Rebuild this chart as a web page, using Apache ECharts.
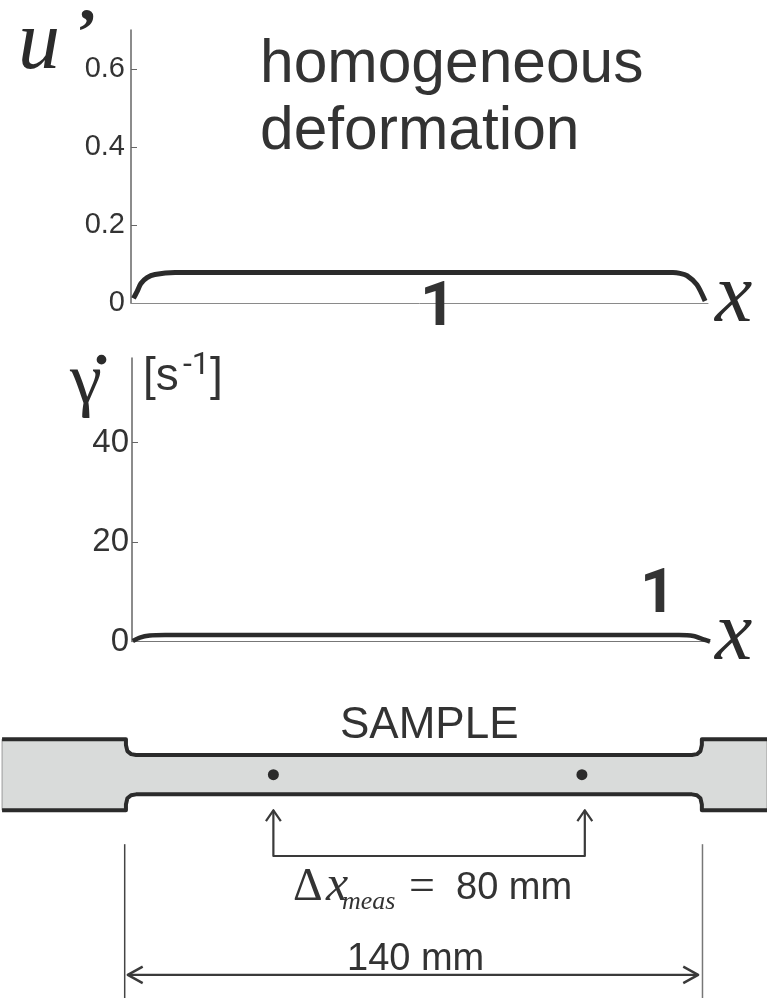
<!DOCTYPE html>
<html><head><meta charset="utf-8">
<style>html,body{margin:0;padding:0;background:#fff}#c{width:767px;height:998px}</style>
<script src="https://cdn.jsdelivr.net/npm/echarts@6/dist/echarts.min.js"></script>
</head><body><div id="c"></div>
<script>
// Top panel: u' along x (mm)
const uX = [0.6,1.5,2.4,3.9,5.8,10.7,40,70,100,131.5,133.2,134.9,137.3,139.3];
const uY = [0.012,0.03,0.05,0.065,0.073,0.078,0.078,0.078,0.078,0.078,0.076,0.070,0.047,0.005];
const uTicks = [0.2,0.4,0.6];
const uLabels = [0,0.2,0.4,0.6];
// Middle panel: strain rate along x (mm)
const gX = [0.2,1.9,4.3,8,40,70,100,132.5,136,138.5,140];
const gY = [0.1,0.8,1.2,1.3,1.3,1.3,1.3,1.3,1.1,0.4,0];
const gTicks = [20,40];
const gLabels = [0,20,40];
// Sample outline (mm)
const sampleTopX = [-29.5,0.45,0.45,0.8,1.7,2.9,137.3,138.5,139.35,139.7,139.7,155.45];
const sampleTopY = [8.6,8.6,7.2,5.7,4.97,4.75,4.75,4.97,5.7,7.2,8.6,8.6];
const gaugeX = [36.1,110.7];
const gaugeY = [0,0];
// Dimension drawing (mm)
const bracketX = [36.1,36.1,111.4,111.4];
const bracketY = [-8.6,-19.66,-19.66,-8.6];
const headLX = [34.3,36.1,37.9];
const headRX = [109.6,111.4,113.2];
const headY = [-11.2,-8.6,-11.2];
const dimX = [0.9,138.8];
const dimY = [-48.4,-48.4];
const dimHeadLX = [4.5,0.9,4.5];
const dimHeadRX = [135.2,138.8,135.2];
const dimHeadY = [-46.4,-48.4,-50.4];
const extX = [0.15,139.85];
const extY = [-16.8,-54];

const DARK='#2b2b2b', TXT='#333333', AX='#666666';
const zip=(a,b)=>a.map((v,i)=>[v,b[i]]);
const path=(xs,ys,w,c,z)=>({type:'line',xAxisIndex:2,yAxisIndex:2,data:zip(xs,ys),symbol:'none',silent:true,clip:false,z:z||3,
  lineStyle:{width:w,color:c,cap:'butt',join:'round'}});
const sans='"Liberation Sans",Arial,sans-serif', serif='"Liberation Serif","Times New Roman",serif', rob='Roboto,sans-serif';
const text=(t,x,baseY,size,face,opt)=>({type:'text',silent:true,z:20,style:Object.assign({text:t,x:x,y:baseY-0.29*size,font:face.replace('$',size+'px'),fill:TXT,textAlign:'left',verticalAlign:'middle'},opt||{})});

const outline = zip(sampleTopX,sampleTopY).concat(zip(sampleTopX,sampleTopY.map(v=>-v)).reverse());

const option={
  animation:false,backgroundColor:'#fff',
  grid:[
    {left:131,width:577,top:30,height:273},
    {left:132,width:578,top:358,height:283.5},
    {left:0,width:767,top:690,height:308}
  ],
  xAxis:[
    {gridIndex:0,type:'value',min:0,max:140,axisLine:{onZero:false,lineStyle:{color:'#8a8a8a',width:1}},axisTick:{show:false},axisLabel:{show:false},splitLine:{show:false}},
    {gridIndex:1,type:'value',min:0,max:140,axisLine:{onZero:false,lineStyle:{color:'#777',width:1}},axisTick:{show:false},axisLabel:{show:false},splitLine:{show:false}},
    {gridIndex:2,type:'value',min:-30,max:155.45,show:false}
  ],
  yAxis:[
    {gridIndex:0,type:'value',min:0,max:0.7,position:'left',
     axisLine:{show:true,onZero:false,lineStyle:{color:AX,width:1.5}},
     axisTick:{show:true,inside:true,length:6,customValues:uTicks,lineStyle:{color:AX}},
     axisLabel:{customValues:uLabels,margin:6,padding:[4,0,0,0],fontFamily:sans,fontSize:29,color:TXT,formatter:v=>v===0?'0':v.toFixed(1)},
     splitLine:{show:false}},
    {gridIndex:1,type:'value',min:0,max:57,position:'left',
     axisLine:{show:true,onZero:false,lineStyle:{color:AX,width:1.5}},
     axisTick:{show:true,inside:true,length:6,customValues:gTicks,lineStyle:{color:AX}},
     axisLabel:{customValues:gLabels,margin:3,padding:[5,0,0,0],fontFamily:sans,fontSize:33,color:TXT},
     splitLine:{show:true,showMinLine:false,showMaxLine:false,lineStyle:{color:'#d4d4d4',type:'dotted',width:1}}},
    {gridIndex:2,type:'value',min:-53.99,max:20.48,show:false}
  ],
  series:[
    {type:'line',name:"u'",xAxisIndex:0,yAxisIndex:0,data:zip(uX,uY),symbol:'none',smooth:0.25,clip:false,silent:true,lineStyle:{width:5,color:DARK}},
    {type:'line',name:'gamma',xAxisIndex:1,yAxisIndex:1,data:zip(gX,gY),symbol:'none',smooth:0.25,clip:false,silent:true,lineStyle:{width:4.5,color:DARK}},
    {type:'custom',xAxisIndex:2,yAxisIndex:2,data:[[0,0]],silent:true,clip:false,z:1,
     renderItem:(p,api)=>({type:'polygon',shape:{points:outline.map(d=>api.coord(d))},style:{fill:'#d9dbda',stroke:'#9a9a9a',lineWidth:1}})},
    path(sampleTopX,sampleTopY,4,DARK),
    path(sampleTopX,sampleTopY.map(v=>-v),4,DARK),
    {type:'scatter',xAxisIndex:2,yAxisIndex:2,data:zip(gaugeX,gaugeY),symbol:'circle',symbolSize:11,silent:true,itemStyle:{color:DARK,opacity:1},z:4},
    path(bracketX,bracketY,2.2,'#3a3a3a'),
    path(headLX,headY,2.2,'#3a3a3a'),
    path(headRX,headY,2.2,'#3a3a3a'),
    path(dimX,dimY,2.2,'#3a3a3a'),
    path(dimHeadLX,dimHeadY,2.4,'#3a3a3a'),
    path(dimHeadRX,dimHeadY,2.4,'#3a3a3a'),
    path([extX[0],extX[0]],extY,1.5,'#444'),
    path([extX[1],extX[1]],extY,1.5,'#777')
  ],
  graphic:{elements:[
    text('u',18,70,84,'italic $ '+serif,{fill:DARK}),
    text('’',76,55,66,'bold $ '+serif,{fill:DARK}),
    text('homogeneous',260,83,60.5,'$ '+sans),
    text('deformation',260,150,60.5,'$ '+sans),
    text('1',420,327,62,'bold $ '+rob),
    text('x',715,323,84,'italic $ '+serif,{fill:DARK}),
    text('γ',70,405,72,'$ '+serif,{fill:DARK}),
    text('.',94,366,60,'bold $ '+serif,{fill:DARK}),
    text('[s',143,391,46,'$ '+sans),
    text('-1',183,375,32,'$ '+rob),
    text(']',210,391,46,'$ '+sans),
    text('1',640,614,62,'bold $ '+rob),
    text('x',715,661,84,'italic $ '+serif,{fill:DARK}),
    text('SAMPLE',340,739,44,'$ '+sans),
    text('Δ',293,901,46,'$ '+serif),
    text('x',326,901,50,'italic $ '+serif),
    text('meas',342,910,26,'italic $ '+serif),
    text('=',409,901,46,'$ '+serif),
    text('80 mm',456,900,38,'$ '+sans),
    text('140 mm',347,971,38,'$ '+sans)
  ]}
};
echarts.init(document.getElementById('c'),null,{renderer:'canvas'}).setOption(option);
</script></body></html>
